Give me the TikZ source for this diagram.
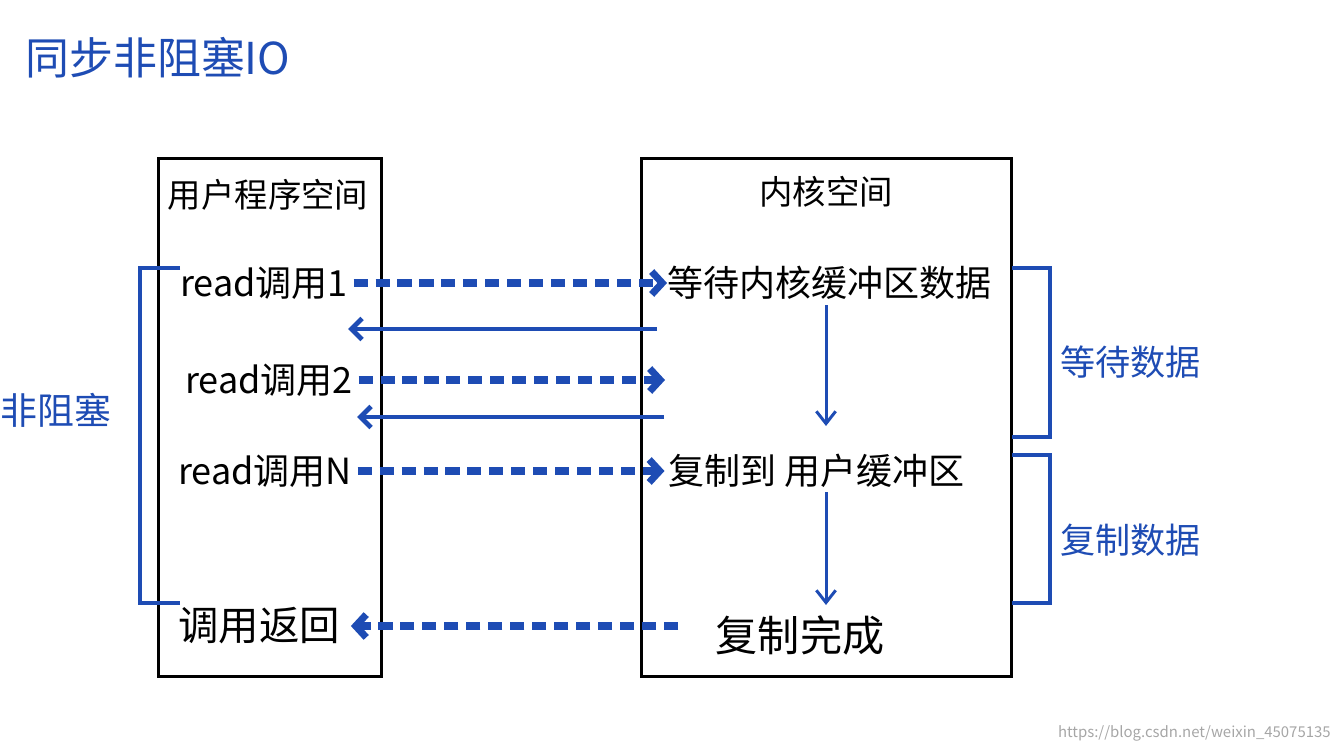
\documentclass[tikz,border=0pt]{standalone}
\usepackage{fontspec}
\setmainfont{Noto Sans CJK SC}
\usetikzlibrary{arrows.meta}
\definecolor{penblue}{RGB}{30,76,180}
\tikzset{
    hand/.style={font=\fontsize{19}{21}\selectfont, inner sep=0pt},
    readtext/.style={hand, font=\fontsize{20.5}{22}\selectfont},
    bluehand/.style={hand, text=penblue},
    spacebox/.style={draw, line width=1.7pt, inner sep=0pt},
    callarrow/.style={penblue, line width=4pt, dash pattern=on 8pt off 4.5pt,
        -{Straight Barb[length=6pt,width=13pt]}},
    backarrow/.style={penblue, line width=2.8pt, -{Straight Barb[length=6pt,width=12pt]}},
    flowarrow/.style={penblue, line width=1.7pt, -{Straight Barb[length=7pt,width=11pt]}},
    bracket/.style={penblue, line width=2.8pt}
}
\begin{document}
\begin{tikzpicture}[x=0.02cm, y=-0.02cm]
    \useasboundingbox (0,0) rectangle (1339,750);

    %Title
    \node[bluehand, font=\fontsize{25}{27}\selectfont, anchor=west] (title) at (25,58) {同步非阻塞IO};

    %User space
    \node[spacebox, minimum width=4.48cm, minimum height=10.38cm] (user) at (270,417.5) {};
    \node[hand] (userlbl) at (268,195) {用户程序空间};
    \node[readtext, anchor=west] (read1) at (180,283) {read调用1};
    \node[readtext, anchor=west] (read2) at (185,380) {read调用2};
    \node[readtext, anchor=west] (readN) at (178,471) {read调用N};
    \node[hand, font=\fontsize{23}{25}\selectfont, anchor=west] (ret) at (178,626) {调用返回};

    %Kernel space
    \node[spacebox, minimum width=7.42cm, minimum height=10.38cm] (kernel) at (826.5,417.5) {};
    \node[hand] (kernlbl) at (826,192) {内核空间};
    \node[hand, font=\fontsize{20.5}{22}\selectfont, anchor=west] (wait) at (667,283) {等待内核缓冲区数据};
    \node[hand, font=\fontsize{20.5}{22}\selectfont, anchor=west] (copy) at (668,471) {复制到 用户缓冲区};
    \node[hand, font=\fontsize{24}{26}\selectfont] (done) at (800,635) {复制完成};

    %Calls and returns
    \coordinate (back1s) at (657,329);
    \coordinate (back1e) at (348,329);
    \coordinate (back2s) at (664,417);
    \coordinate (back2e) at (357,417);
    \coordinate (call2e) at (665,380);
    \coordinate (retstart) at (678,626);
    \draw[callarrow] ([xshift=3pt]read1.east) -- (wait.west);
    \draw[backarrow] (back1s) -- (back1e);
    \draw[callarrow] ([xshift=3pt]read2.east) -- (call2e);
    \draw[backarrow] (back2s) -- (back2e);
    \draw[callarrow] ([xshift=3pt]readN.east) -- ([xshift=-2pt]copy.west);
    \draw[callarrow] (retstart) -- ([xshift=6pt]ret.east);

    %Kernel flow
    \coordinate (flow1s) at (826,305);
    \coordinate (flow1e) at (826,426);
    \coordinate (flow2s) at (826,492);
    \coordinate (flow2e) at (826,605);
    \draw[flowarrow] (flow1s) -- (flow1e);
    \draw[flowarrow] (flow2s) -- (flow2e);

    %Non-blocking bracket
    \draw[bracket] (180,268) -- (140,268) -- (140,603) -- (180,603);
    \node[bluehand, font=\fontsize{21}{23}\selectfont, anchor=west] (nonblock) at (0,410) {非阻塞};

    %Wait / copy brackets
    \draw[bracket] (1012,268) -- (1050,268) -- (1050,437) -- (1012,437);
    \draw[bracket] (1012,455) -- (1050,455) -- (1050,603) -- (1012,603);
    \node[bluehand, font=\fontsize{20}{22}\selectfont, anchor=west] (waitdata) at (1060,362) {等待数据};
    \node[bluehand, font=\fontsize{20}{22}\selectfont, anchor=west] (copydata) at (1060,540) {复制数据};

    %Watermark
    \node[font=\fontsize{8.5}{10}\selectfont, text=black!35, anchor=east, inner sep=0pt] (mark) at (1331,733) {https://blog.csdn.net/weixin\_45075135};
\end{tikzpicture}
\end{document}
